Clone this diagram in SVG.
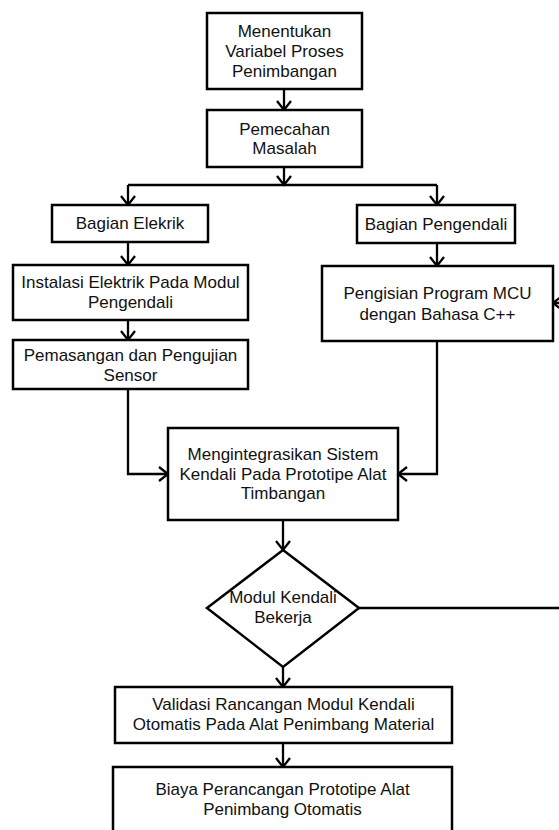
<svg xmlns="http://www.w3.org/2000/svg" width="559" height="830" viewBox="0 0 559 830">
<defs>
<style>
.box{fill:#fff;stroke:#000;stroke-width:2.5}
.ln{fill:none;stroke:#000;stroke-width:2.3}
text{font-family:"Liberation Sans",Arial,sans-serif;font-size:17px;fill:#111;text-anchor:middle}
</style>
<marker id="arr" markerUnits="userSpaceOnUse" markerWidth="20" markerHeight="20" viewBox="-10 -10 20 20" refX="0" refY="0" orient="auto">
<path d="M-9,-7 L0,0 L-9,7" fill="none" stroke="#000" stroke-width="2.3"/>
</marker>
</defs>
<rect width="559" height="830" fill="#fff"/>
<g id="connectors">
<path class="ln" d="M284,89 V110" marker-end="url(#arr)"/>
<path class="ln" d="M284,167 V185" marker-end="url(#arr)"/>
<path class="ln" d="M128,185 H437"/>
<path class="ln" d="M128,185 V205" marker-end="url(#arr)"/>
<path class="ln" d="M437,185 V205" marker-end="url(#arr)"/>
<path class="ln" d="M128,242 V265" marker-end="url(#arr)"/>
<path class="ln" d="M128,320 V340" marker-end="url(#arr)"/>
<path class="ln" d="M437,243 V266" marker-end="url(#arr)"/>
<path class="ln" d="M128,389 V474 H168" marker-end="url(#arr)"/>
<path class="ln" d="M437,341 V474 H398" marker-end="url(#arr)"/>
<path class="ln" d="M283,520 V550" marker-end="url(#arr)"/>
<path class="ln" d="M283,667 V687" marker-end="url(#arr)"/>
<path class="ln" d="M283,743 V767" marker-end="url(#arr)"/>
<path class="ln" d="M359,608 H572 V303 H553" marker-end="url(#arr)"/>
</g>
<g id="n1">
<rect class="box" x="207" y="13" width="155" height="76"/>
<text x="284.5" y="37">Menentukan</text>
<text x="284.5" y="57">Variabel Proses</text>
<text x="284.5" y="77">Penimbangan</text>
</g>
<g id="n2">
<rect class="box" x="207" y="110" width="155" height="57"/>
<text x="284.5" y="135">Pemecahan</text>
<text x="284.5" y="154">Masalah</text>
</g>
<g id="n3">
<rect class="box" x="52" y="205" width="156" height="37"/>
<text x="130" y="229">Bagian Elekrik</text>
</g>
<g id="n4">
<rect class="box" x="357" y="205" width="158" height="38"/>
<text x="436" y="229.5">Bagian Pengendali</text>
</g>
<g id="n5">
<rect class="box" x="13" y="265" width="235" height="55"/>
<text x="130.5" y="288">Instalasi Elektrik Pada Modul</text>
<text x="130.5" y="308">Pengendali</text>
</g>
<g id="n6">
<rect class="box" x="13" y="340" width="235" height="49"/>
<text x="130.5" y="361">Pemasangan dan Pengujian</text>
<text x="130.5" y="381">Sensor</text>
</g>
<g id="n7">
<rect class="box" x="322" y="266" width="231" height="75"/>
<text x="437.5" y="299">Pengisian Program MCU</text>
<text x="437.5" y="320">dengan Bahasa C++</text>
</g>
<g id="n8">
<rect class="box" x="168" y="428" width="230" height="92"/>
<text x="283" y="460">Mengintegrasikan Sistem</text>
<text x="283" y="480">Kendali Pada Prototipe Alat</text>
<text x="283" y="499">Timbangan</text>
</g>
<g id="n9">
<polygon class="box" points="283,550 359,608 283,667 207,608"/>
<text x="283" y="603">Modul Kendali</text>
<text x="283" y="623">Bekerja</text>
</g>
<g id="n10">
<rect class="box" x="115" y="687" width="337" height="56"/>
<text x="283.5" y="710">Validasi Rancangan Modul Kendali</text>
<text x="283.5" y="730">Otomatis Pada Alat Penimbang Material</text>
</g>
<g id="n11">
<rect class="box" x="113" y="767" width="339" height="70"/>
<text x="282.5" y="795">Biaya Perancangan Prototipe Alat</text>
<text x="282.5" y="815">Penimbang Otomatis</text>
</g>
</svg>
